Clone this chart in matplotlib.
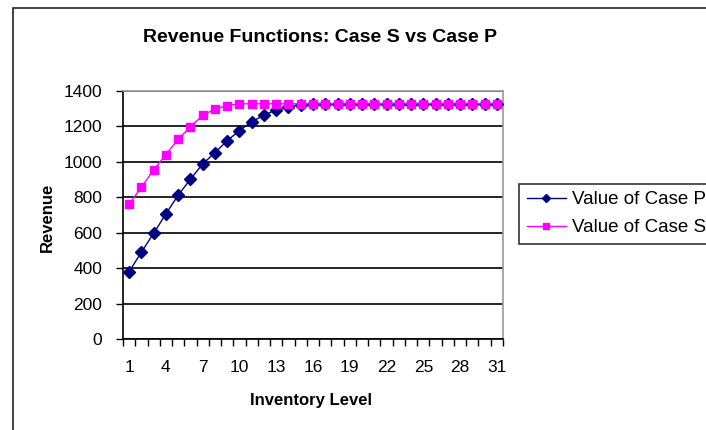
import matplotlib
matplotlib.use("Agg")
import matplotlib.pyplot as plt
from matplotlib.patches import Rectangle
from matplotlib.ticker import FixedLocator, NullFormatter

plt.rcParams["font.family"] = ["Liberation Sans", "DejaVu Sans"]

# Inventory levels 1..31
levels = list(range(1, 32))
tick_labels = ["1", "4", "7", "10", "13", "16", "19", "22", "25", "28", "31"]

case_p = [380, 490, 597, 706, 812, 902, 988, 1052, 1119, 1177, 1226, 1264, 1294,
          1312, 1322, 1324, 1325, 1325, 1325, 1325, 1325, 1325, 1325, 1325, 1325,
          1325, 1325, 1325, 1325, 1325, 1325]
case_s = [761, 857, 955, 1041, 1128, 1198, 1262, 1298, 1318, 1327, 1328, 1328,
          1328, 1328, 1328, 1328, 1328, 1328, 1328, 1328, 1328, 1328, 1328, 1328,
          1328, 1328, 1328, 1328, 1328, 1328, 1328]

W, H = 706, 430
fig = plt.figure(figsize=(W / 100, H / 100), dpi=100)
fig.patch.set_facecolor("white")

# outer chart frame (runs off the right and bottom edges)
fig.patches.append(Rectangle((13 / W, -0.1), 1.2, (H - 8) / H + 0.1,
                             transform=fig.transFigure, fill=False,
                             edgecolor="#222222", linewidth=1.2, zorder=0))

left, right, top, bottom = 123, 503, 91, 339
ax = fig.add_axes([left / W, (H - bottom) / H, (right - left) / W, (bottom - top) / H])

ax.plot(levels, case_p, color="#000080", linewidth=1.0, marker="D",
        markersize=5.8, markerfacecolor="#000080", markeredgecolor="#000080",
        label="Value of Case P", zorder=3)
ax.plot(levels, case_s, color="#FF00FF", linewidth=1.0, marker="s",
        markersize=6.2, markerfacecolor="#FF00FF", markeredgecolor="#FF00FF",
        label="Value of Case S", zorder=4)

ax.set_xlim(0.5, 31.5)
ax.set_ylim(0, 1400)
ax.set_yticks(range(0, 1401, 200))
ax.yaxis.grid(True, color="black", linewidth=1.2)
ax.set_axisbelow(True)

ax.set_xticks([int(t) for t in tick_labels])
ax.set_xticklabels(tick_labels)
ax.xaxis.set_minor_locator(FixedLocator([i + 0.5 for i in range(0, 32)]))
ax.xaxis.set_minor_formatter(NullFormatter())
ax.tick_params(axis="x", which="major", length=0, pad=15, labelsize=12.5)
ax.tick_params(axis="x", which="minor", length=5, width=1, direction="out")
ax.tick_params(axis="y", length=5, width=1, direction="out", pad=10, labelsize=12.5)

for s in ("left", "bottom"):
    ax.spines[s].set_color("black")
    ax.spines[s].set_linewidth(1.2)
for s in ("top", "right"):
    ax.spines[s].set_color("#999999")
    ax.spines[s].set_linewidth(1.2)

fig.text(320 / W, 1 - 38 / H, "Revenue Functions: Case S vs Case P",
         ha="center", va="center", fontsize=14, fontweight="bold")
fig.text(311 / W, 1 - 401 / H, "Inventory Level", ha="center", va="center",
         fontsize=12, fontweight="bold")
fig.text(47 / W, 1 - 217 / H, "Revenue", ha="center", va="center",
         fontsize=12, fontweight="bold", rotation=90)

leg = fig.legend(loc="lower left", bbox_to_anchor=(519 / W, (H - 244) / H),
                 borderaxespad=0, frameon=True, fancybox=False,
                 edgecolor="black", fontsize=13.5, handlelength=2.1,
                 handletextpad=0.35, labelspacing=0.6, borderpad=0.4,
                 markerscale=0.75)
leg.get_frame().set_linewidth(1.2)

fig.savefig("out.png", dpi=100)
